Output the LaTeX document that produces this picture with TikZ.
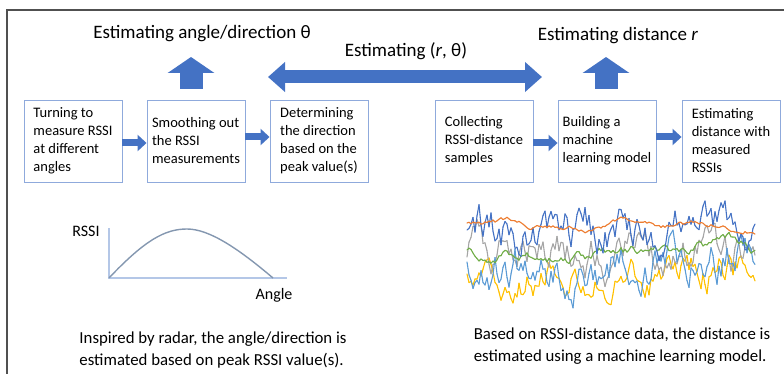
\documentclass[tikz,border=0pt]{standalone}
\usepackage{fontspec}
\setmainfont{Carlito}
\usetikzlibrary{arrows.meta}

\definecolor{boxline}{HTML}{8FAADC}
\definecolor{arrowblue}{HTML}{4472C4}
\definecolor{framegray}{HTML}{505050}
\definecolor{curvecol}{HTML}{8497B0}
\definecolor{axiscol}{HTML}{B4C7E7}
\definecolor{tr1}{HTML}{4472C4}
\definecolor{tr2}{HTML}{ED7D31}
\definecolor{tr3}{HTML}{A5A5A5}
\definecolor{tr4}{HTML}{FFC000}
\definecolor{tr5}{HTML}{70AD47}
\definecolor{tr6}{HTML}{5B9BD5}

% one noisy RSSI trace: colour, mean, noise, memory, seed
\newcommand{\rssitrace}[5]{%
  \pgfmathsetseed{#5}
  \xdef\lasty{#2}
  \foreach \i in {1,...,144}{
    \pgfmathsetmacro\nexty{min(max(#2+#4*(\lasty-(#2))+#3*rand,201),312)}
    \draw[#1, line width=1.1pt, line cap=round] ({467+2*\i-2},\lasty) -- ({467+2*\i},\nexty);
    \xdef\lasty{\nexty}
  }
}

\begin{document}
\begin{tikzpicture}[x=1pt, y=-1pt,
    stepbox/.style={draw=boxline, line width=0.9pt, minimum width=98pt, minimum height=82pt,
        align=left, inner sep=3pt, font=\fontsize{14.5}{18}\selectfont},
    headline/.style={font=\fontsize{19}{22}\selectfont},
    smallarrow/.style={arrowblue, line width=7pt, -{Triangle[width=16pt,length=9pt]}},
    caption/.style={align=left, font=\fontsize{16.8}{22}\selectfont}]
    \useasboundingbox (0,0) rectangle (784,374);

    % frame
    \draw[framegray, line width=1.4pt] (7,374) -- (7,10) -- (784,10);

    % direction part
    \node[stepbox] (turn) at (73,141) {Turning to\\measure RSSI\\at different\\angles};
    \node[stepbox] (smooth) at (196,141) {Smoothing out\\the RSSI\\measurements};
    \node[stepbox] (peak) at (319,141) {Determining\\the direction\\based on the\\peak value(s)};
    \draw[smallarrow] ([yshift=-2pt]turn.east) -- ([yshift=-2pt]smooth.west);
    \draw[smallarrow] ([yshift=4pt]smooth.east) -- ([yshift=4pt]peak.west);

    % distance part
    \node[stepbox] (collect) at (484,141) {Collecting\\RSSI-distance\\samples};
    \node[stepbox] (model) at (607,141) {Building a\\machine\\learning model};
    \node[stepbox] (dist) at (731,141) {Estimating\\distance with\\measured\\RSSIs};
    \draw[smallarrow] ([yshift=-2pt]collect.east) -- ([yshift=-2pt]model.west);
    \draw[smallarrow] ([yshift=4pt]model.east) -- ([yshift=4pt]dist.west);

    % headlines and big arrows
    \node[headline] (angtitle) at (202,34) {Estimating angle/direction θ};
    \node[headline] (bothtitle) at (406,51) {Estimating (\textit{r}, θ)};
    \node[headline] (disttitle) at (618,36) {Estimating distance \textit{r}};

    \coordinate (angfoot) at (191,89);
    \coordinate (angtip) at (191,57);
    \coordinate (distfoot) at (606,89);
    \coordinate (disttip) at (606,57);
    \coordinate (bothL) at (268,77);
    \coordinate (bothR) at (542,77);
    \draw[arrowblue, line width=23pt, -{Triangle[width=46pt,length=16pt]}] (angfoot) -- (angtip);
    \draw[arrowblue, line width=23pt, -{Triangle[width=46pt,length=16pt]}] (distfoot) -- (disttip);
    \draw[arrowblue, line width=13pt, {Triangle[width=29pt,length=17pt]}-{Triangle[width=29pt,length=17pt]}] (bothL) -- (bothR);

    % RSSI over angle
    \coordinate (orig) at (109,278);
    \coordinate (ytop) at (109,228);
    \coordinate (xend) at (287,278);
    \draw[axiscol, line width=1.2pt] (ytop) -- (orig) -- (xend);
    \draw[curvecol, line width=1.4pt] (orig) .. controls (145,240) and (165,229) .. (187,229)
        .. controls (210,229) and (240,250) .. (273,278);
    \node[font=\fontsize{16}{18}\selectfont] (rssilabel) at (86,231) {RSSI};
    \node[font=\fontsize{16}{18}\selectfont] (anglelabel) at (274,295) {Angle};

    % RSSI-distance samples
    \rssitrace{tr4}{274}{13}{0.8}{11}
    \rssitrace{tr3}{257}{15}{0.8}{23}
    \rssitrace{tr6}{262}{17}{0.8}{37}
    \rssitrace{tr5}{250}{4}{0.92}{41}
    \rssitrace{tr1}{230}{16}{0.8}{53}
    \rssitrace{tr2}{223}{2}{0.97}{67}

    % captions
    \node[caption] (angnote) at (213,350) {Inspired by radar, the angle/direction is\\estimated based on peak RSSI value(s).};
    \node[caption] (distnote) at (622,346) {Based on RSSI-distance data, the distance is\\estimated using a machine learning model.};
\end{tikzpicture}
\end{document}
